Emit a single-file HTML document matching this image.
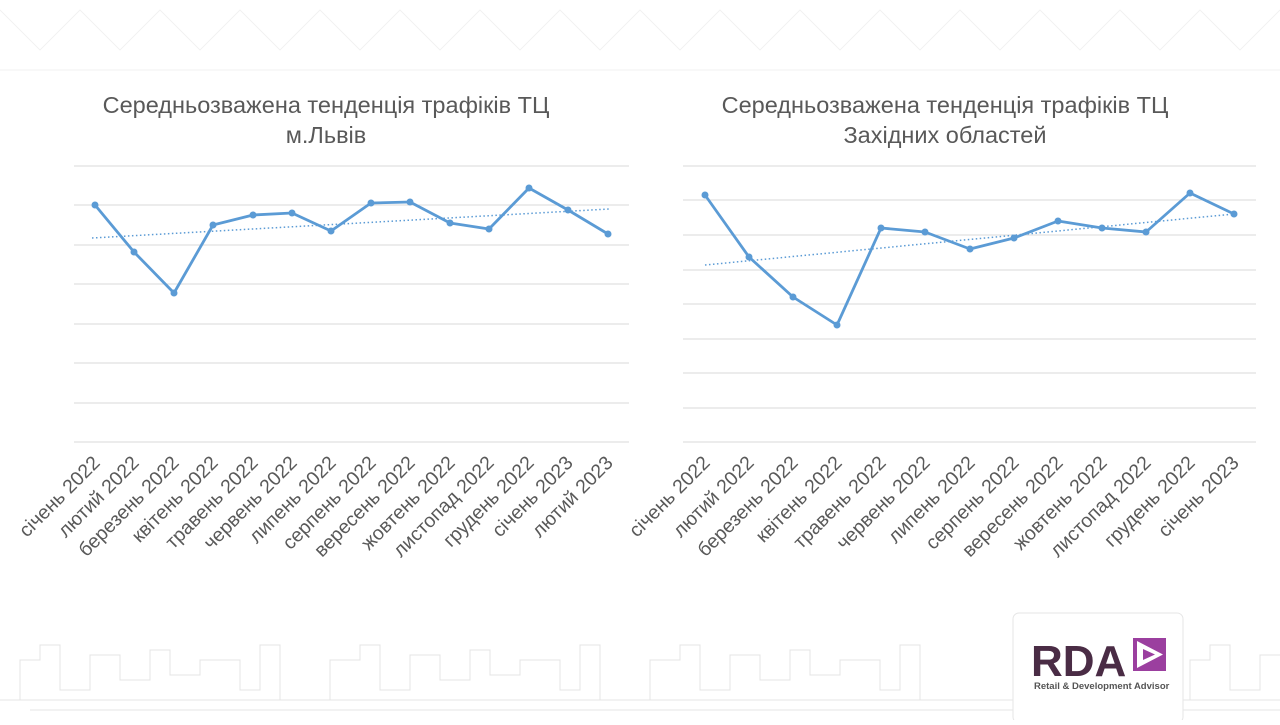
<!DOCTYPE html>
<html><head><meta charset="utf-8"><style>
body{margin:0;width:1280px;height:720px;overflow:hidden;background:#fff;font-family:"Liberation Sans","DejaVu Sans",sans-serif}
</style></head><body>
<svg width="1280" height="720" viewBox="0 0 1280 720" xmlns="http://www.w3.org/2000/svg" font-family="Liberation Sans, DejaVu Sans, sans-serif">
<rect width="1280" height="720" fill="#fff"/>
<g stroke="#f2f2f2" stroke-width="1" fill="none">
<path d="M0 70 L1280 70"/>
<path d="M0 10 L40 50 L80 10 L120 50 L160 10 L200 50 L240 10 L280 50 L320 10 L360 50 L400 10 L440 50 L480 10 L520 50 L560 10 L600 50 L640 10 L680 50 L720 10 L760 50 L800 10 L840 50 L880 10 L920 50 L960 10 L1000 50 L1040 10 L1080 50 L1120 10 L1160 50 L1200 10 L1240 50 L1280 10"/>
</g>
<g stroke="#e4e4e4" stroke-width="1" fill="none">
<path d="M20 700 L20 660 L40 660 L40 645 L60 645 L60 690 L90 690 L90 655 L120 655 L120 680 L150 680 L150 650 L170 650 L170 675 L200 675 L200 660 L240 660 L240 690 L260 690 L260 645 L280 645 L280 700"/>
<path d="M330 700 L330 660 L360 660 L360 645 L380 645 L380 690 L410 690 L410 655 L440 655 L440 680 L470 680 L470 650 L490 650 L490 675 L520 675 L520 660 L560 660 L560 690 L580 690 L580 645 L600 645 L600 700"/>
<path d="M650 700 L650 660 L680 660 L680 645 L700 645 L700 690 L730 690 L730 655 L760 655 L760 680 L790 680 L790 650 L810 650 L810 675 L840 675 L840 660 L880 660 L880 690 L900 690 L900 645 L920 645 L920 700"/>
<path d="M1190 700 L1190 660 L1210 660 L1210 645 L1230 645 L1230 690 L1260 690 L1260 655 L1280 655"/>
<path d="M0 700 L1280 700 M30 710 L1280 710"/>
</g>
<rect x="1013" y="613" width="170" height="110" rx="6" fill="#fff" stroke="#e6e6e6"/>
<text x="1031" y="676" font-size="44" font-weight="bold" fill="#4a2c45">RDA</text>
<rect x="1133" y="638" width="33" height="33" fill="#9b3f9f"/>
<path d="M1137 641 L1163 654.5 L1137 668 Z M1143 649 L1155 654.5 L1143 660 Z" fill="#fff" fill-rule="evenodd"/>
<text x="1034" y="689" font-size="9.5" font-weight="bold" fill="#555">Retail &amp; Development Advisor</text>

<g font-size="23.5" fill="#595959" text-anchor="middle">
<text x="326" y="113">Середньозважена тенденція трафіків ТЦ</text>
<text x="326" y="143">м.Львів</text>
<text x="945" y="113">Середньозважена тенденція трафіків ТЦ</text>
<text x="945" y="143">Західних областей</text>
</g>

<g stroke="#d9d9d9" stroke-width="1">
<path d="M74 166H629M74 205H629M74 245H629M74 284H629M74 324H629M74 363H629M74 403H629M74 442H629"/>
<path d="M683 166H1256M683 200H1256M683 235H1256M683 270H1256M683 304H1256M683 339H1256M683 373H1256M683 408H1256M683 442H1256"/>
</g>

<line x1="92" y1="238" x2="609" y2="209" stroke="#5b9bd5" stroke-width="1.5" stroke-dasharray="1.5 2.5"/>
<polyline fill="none" stroke="#5b9bd5" stroke-width="2.8" stroke-linejoin="round" points="95,205 134,252 174,293 213,225 253,215 292,213 331,231 371,203 410,202 450,223 489,229 529,188 568,210 608,234"/>
<g fill="#5b9bd5">
<circle cx="95" cy="205" r="3.5"/><circle cx="134" cy="252" r="3.5"/><circle cx="174" cy="293" r="3.5"/><circle cx="213" cy="225" r="3.5"/><circle cx="253" cy="215" r="3.5"/><circle cx="292" cy="213" r="3.5"/><circle cx="331" cy="231" r="3.5"/><circle cx="371" cy="203" r="3.5"/><circle cx="410" cy="202" r="3.5"/><circle cx="450" cy="223" r="3.5"/><circle cx="489" cy="229" r="3.5"/><circle cx="529" cy="188" r="3.5"/><circle cx="568" cy="210" r="3.5"/><circle cx="608" cy="234" r="3.5"/>
</g>

<line x1="705" y1="265" x2="1234" y2="214" stroke="#5b9bd5" stroke-width="1.5" stroke-dasharray="1.5 2.5"/>
<polyline fill="none" stroke="#5b9bd5" stroke-width="2.8" stroke-linejoin="round" points="705,195 749,257 793,297 837,325 881,228 925,232 970,249 1014,238 1058,221 1102,228 1146,232 1190,193 1234,214"/>
<g fill="#5b9bd5">
<circle cx="705" cy="195" r="3.5"/><circle cx="749" cy="257" r="3.5"/><circle cx="793" cy="297" r="3.5"/><circle cx="837" cy="325" r="3.5"/><circle cx="881" cy="228" r="3.5"/><circle cx="925" cy="232" r="3.5"/><circle cx="970" cy="249" r="3.5"/><circle cx="1014" cy="238" r="3.5"/><circle cx="1058" cy="221" r="3.5"/><circle cx="1102" cy="228" r="3.5"/><circle cx="1146" cy="232" r="3.5"/><circle cx="1190" cy="193" r="3.5"/><circle cx="1234" cy="214" r="3.5"/>
</g>

<g font-size="19.5" fill="#595959" text-anchor="end">
<text transform="translate(101,464) rotate(-45)">січень 2022</text>
<text transform="translate(140,464) rotate(-45)">лютий 2022</text>
<text transform="translate(180,464) rotate(-45)">березень 2022</text>
<text transform="translate(219,464) rotate(-45)">квітень 2022</text>
<text transform="translate(259,464) rotate(-45)">травень 2022</text>
<text transform="translate(298,464) rotate(-45)">червень 2022</text>
<text transform="translate(337,464) rotate(-45)">липень 2022</text>
<text transform="translate(377,464) rotate(-45)">серпень 2022</text>
<text transform="translate(416,464) rotate(-45)">вересень 2022</text>
<text transform="translate(456,464) rotate(-45)">жовтень 2022</text>
<text transform="translate(495,464) rotate(-45)">листопад 2022</text>
<text transform="translate(535,464) rotate(-45)">грудень 2022</text>
<text transform="translate(574,464) rotate(-45)">січень 2023</text>
<text transform="translate(614,464) rotate(-45)">лютий 2023</text>
</g>
<g font-size="19.5" fill="#595959" text-anchor="end">
<text transform="translate(711,464) rotate(-45)">січень 2022</text>
<text transform="translate(755,464) rotate(-45)">лютий 2022</text>
<text transform="translate(799,464) rotate(-45)">березень 2022</text>
<text transform="translate(843,464) rotate(-45)">квітень 2022</text>
<text transform="translate(887,464) rotate(-45)">травень 2022</text>
<text transform="translate(931,464) rotate(-45)">червень 2022</text>
<text transform="translate(976,464) rotate(-45)">липень 2022</text>
<text transform="translate(1020,464) rotate(-45)">серпень 2022</text>
<text transform="translate(1064,464) rotate(-45)">вересень 2022</text>
<text transform="translate(1108,464) rotate(-45)">жовтень 2022</text>
<text transform="translate(1152,464) rotate(-45)">листопад 2022</text>
<text transform="translate(1196,464) rotate(-45)">грудень 2022</text>
<text transform="translate(1240,464) rotate(-45)">січень 2023</text>
</g>
</svg>
</body></html>
